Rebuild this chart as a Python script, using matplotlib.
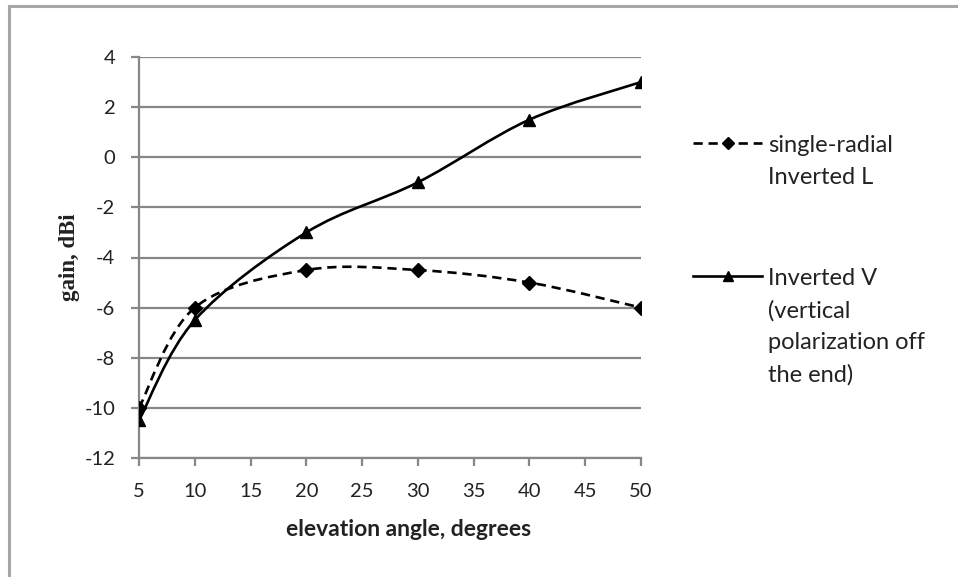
import matplotlib
matplotlib.use("Agg")
import matplotlib.pyplot as plt
from matplotlib.path import Path
from matplotlib.patches import PathPatch
from matplotlib.lines import Line2D
import numpy as np

# ---- data ----
elevation = [5, 10, 20, 30, 40, 50]
single_radial = [-10, -6, -4.5, -4.5, -5, -6]
inverted_v = [-10.5, -6.5, -3, -1, 1.5, 3]
series_labels = ["single-radial\nInverted L", "Inverted V\n(vertical\npolarization off\nthe end)"]
x_ticks = [5, 10, 15, 20, 25, 30, 35, 40, 45, 50]
y_ticks = [-12, -10, -8, -6, -4, -2, 0, 2, 4]

W, H = 958, 577
fig = plt.figure(figsize=(W / 100, H / 100), dpi=100)
fig.patch.set_facecolor("white")

FONT = "Lato"
GRAY = "#878787"
TXT = "#222222"


def fx(px):
    return px / W


def fy(py):
    return 1 - py / H


ax = fig.add_axes([139 / W, 1 - 458 / H, (641 - 139) / W, (458 - 57) / H])
ax.set_xlim(5, 50)
ax.set_ylim(-12, 4)
ax.set_xticks(x_ticks)
ax.set_yticks(y_ticks)
ax.set_xticklabels([str(t) for t in x_ticks], fontfamily=FONT, fontsize=14.5)
ax.set_yticklabels([str(t) for t in y_ticks], fontfamily=FONT, fontsize=14.5)
for s in ["top", "right"]:
    ax.spines[s].set_visible(False)
for s in ["left", "bottom"]:
    ax.spines[s].set_color(GRAY)
    ax.spines[s].set_linewidth(1.6)
ax.tick_params(axis="both", direction="out", length=6, width=1.6, color=GRAY, labelcolor=TXT)
ax.tick_params(axis="x", pad=12)
ax.tick_params(axis="y", pad=11)
ax.yaxis.grid(True, color=GRAY, linewidth=1.6)
ax.set_axisbelow(True)

fig.text(fx(409), fy(530), "elevation angle, degrees", fontfamily=FONT, fontsize=16.5,
         fontweight="bold", color=TXT, ha="center", va="center")
fig.text(fx(70), fy(257), "gain, dBi", fontfamily="Liberation Serif", fontsize=16.5,
         fontweight="bold", color=TXT, ha="center", va="center", rotation=90)


def smooth_path(xs, ys):
    pts = np.column_stack([xs, ys]).astype(float)
    n = len(pts)
    verts = [pts[0]]
    codes = [Path.MOVETO]
    for i in range(n - 1):
        p0 = pts[i - 1] if i > 0 else pts[i]
        p1 = pts[i]
        p2 = pts[i + 1]
        p3 = pts[i + 2] if i + 2 < n else pts[i + 1]
        c1 = p1 + (p2 - p0) / 6.0
        c2 = p2 - (p3 - p1) / 6.0
        verts += [c1, c2, p2]
        codes += [Path.CURVE4] * 3
    return Path(verts, codes)


lw = 1.9
dash = (0, (3.5, 2.2))
ax.add_patch(PathPatch(smooth_path(elevation, single_radial), fill=False, edgecolor="black",
                       linewidth=lw, linestyle=dash, zorder=3))
ax.add_patch(PathPatch(smooth_path(elevation, inverted_v), fill=False, edgecolor="black",
                       linewidth=lw, linestyle="-", zorder=3))
ax.plot(elevation, single_radial, linestyle="none", marker="D", markersize=7, color="black", zorder=4)
ax.plot(elevation, inverted_v, linestyle="none", marker="^", markersize=8.5, color="black", zorder=4)

# ---- legend (manual, outside plot area) ----
leg_items = [
    (dash, "D", 6, 143, series_labels[0]),
    ("-", "^", 6.5, 276, series_labels[1]),
]
for ls, mk, ms, ypx, lab in leg_items:
    fig.add_artist(Line2D([fx(693), fx(762)], [fy(ypx), fy(ypx)], color="black", linewidth=lw,
                          linestyle=ls, transform=fig.transFigure))
    fig.add_artist(Line2D([fx(727.5)], [fy(ypx)], color="black", marker=mk, markersize=ms,
                          linestyle="none", transform=fig.transFigure))
    fig.text(fx(768), fy(ypx - 8), lab, fontfamily=FONT, fontsize=17, color=TXT,
             va="top", ha="left", linespacing=1.62)

# ---- outer border (top and left visible) ----
fig.add_artist(Line2D([fx(8.5), fx(W)], [fy(5.5), fy(5.5)], color="#a6a6a6", linewidth=2.2,
                      transform=fig.transFigure))
fig.add_artist(Line2D([fx(8.5), fx(8.5)], [fy(5.5), fy(H)], color="#a6a6a6", linewidth=2.2,
                      transform=fig.transFigure))

fig.savefig("out.png", dpi=100, facecolor="white")
